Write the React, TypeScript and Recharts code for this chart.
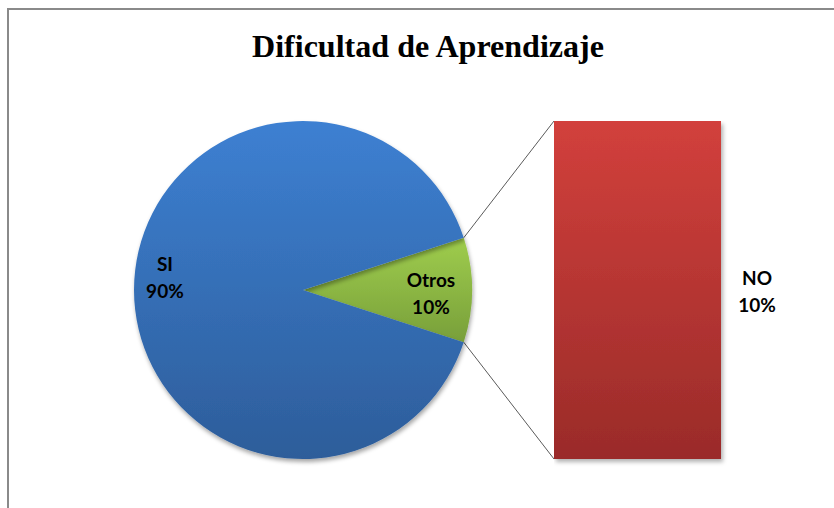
import React from "react";
import { PieChart, Pie, Cell, BarChart, Bar, XAxis, YAxis, LabelList } from "recharts";

// pie slices (Otros first so it sits centred on the right side)
const pieNames = ["Otros", "SI"];
const pieValues = [10, 90];
const pieFills = ["url(#gradGreen)", "url(#gradBlue)"];

// the "Otros" slice broken out into the bar
const barNames = ["NO"];
const barValues = [10];

const pieData = pieNames.map((name, i) => ({ name, value: pieValues[i] }));
const barData = barNames.map((name, i) => ({ name, value: barValues[i] }));

const CX = 303;
const CY = 290;
const R = 169;
const BAR_LEFT = 554;
const BAR_TOP = 121;
const BAR_W = 167;
const BAR_H = 338;

const labelFont = "Lato, 'Open Sans', sans-serif";
const labelSize = 19;

const total = pieValues.reduce((a, b) => a + b, 0);
const halfOtros = (pieValues[0] / total) * 180;

// label placement inside each slice: radius factor and vertical nudge
const pieLabelPos: Record<string, { k: number; dy: number }> = {
  SI: { k: 0.817, dy: -19 },
  Otros: { k: 0.757, dy: -3 },
};

function PieLabel(props: any) {
  const { cx, cy, midAngle, outerRadius, percent, name } = props;
  const pos = pieLabelPos[name] || { k: 0.8, dy: -8 };
  const rad = (-midAngle * Math.PI) / 180;
  const x = cx + outerRadius * pos.k * Math.cos(rad);
  const y = cy + outerRadius * pos.k * Math.sin(rad);
  return (
    <text x={x} y={y} textAnchor="middle" fontFamily={labelFont} fontWeight={700} fontSize={labelSize} fill="#000">
      <tspan x={x} dy={pos.dy}>{name}</tspan>
      <tspan x={x} dy={27}>{`${Math.round(percent * 100)}%`}</tspan>
    </text>
  );
}

function BarLabel(props: any) {
  const { x, y, width, height, value, index } = props;
  const lx = x + width + 36;
  const ly = y + height / 2;
  return (
    <text x={lx} y={ly} textAnchor="middle" fontFamily={labelFont} fontWeight={700} fontSize={labelSize} fill="#000">
      <tspan x={lx} dy={-5}>{barNames[index]}</tspan>
      <tspan x={lx} dy={27}>{`${Math.round((value / total) * 100)}%`}</tspan>
    </text>
  );
}

export default function App() {
  const a = (halfOtros * Math.PI) / 180;
  const p1 = { x: CX + R * Math.cos(a), y: CY - R * Math.sin(a) };
  const p2 = { x: CX + R * Math.cos(a), y: CY + R * Math.sin(a) };

  return (
    <div style={{ position: "fixed", left: 0, top: 0, width: 834, height: 508, overflow: "hidden", background: "#fff" }}>
      <div
        style={{
          position: "absolute",
          left: 7,
          top: 8,
          width: 900,
          height: 600,
          borderLeft: "2px solid #8a8a8a",
          borderTop: "2px solid #8a8a8a",
        }}
      />

      <svg style={{ position: "absolute", left: 0, top: 0 }} width={834} height={508}>
        <text
          x={428}
          y={57}
          textAnchor="middle"
          fontFamily="'Liberation Serif', serif"
          fontWeight={700}
          fontSize={32}
          textLength={352}
          lengthAdjust="spacingAndGlyphs"
          fill="#000"
        >
          Dificultad de Aprendizaje
        </text>
        <line x1={p1.x} y1={p1.y} x2={BAR_LEFT} y2={BAR_TOP} stroke="#5a5a5a" strokeWidth={1} />
        <line x1={p2.x} y1={p2.y} x2={BAR_LEFT} y2={BAR_TOP + BAR_H} stroke="#5a5a5a" strokeWidth={1} />
      </svg>

      <div style={{ position: "absolute", left: 0, top: 0 }}>
        <PieChart width={834} height={508} margin={{ top: 0, right: 0, bottom: 0, left: 0 }}>
          <defs>
            <linearGradient id="gradBlue" x1="0" y1="0" x2="0" y2="1">
              <stop offset="0%" stopColor="#3d80d2" />
              <stop offset="100%" stopColor="#2d5d9a" />
            </linearGradient>
            <linearGradient id="gradGreen" x1="0" y1="0" x2="0" y2="1">
              <stop offset="0%" stopColor="#9fcd4d" />
              <stop offset="100%" stopColor="#789f3a" />
            </linearGradient>
            <filter id="pieShadow" x="-10%" y="-10%" width="120%" height="125%">
              <feDropShadow dx="1" dy="3" stdDeviation="2" floodColor="#000" floodOpacity="0.35" />
            </filter>
          </defs>
          <Pie
            data={pieData}
            dataKey="value"
            nameKey="name"
            cx={CX}
            cy={CY}
            outerRadius={R}
            startAngle={-halfOtros}
            endAngle={360 - halfOtros}
            stroke="none"
            label={PieLabel}
            labelLine={false}
            isAnimationActive={false}
            style={{ filter: "url(#pieShadow)" }}
          >
            {pieData.map((d, i) => (
              <Cell key={d.name} fill={pieFills[i]} />
            ))}
          </Pie>
        </PieChart>
      </div>

      <div style={{ position: "absolute", left: BAR_LEFT, top: BAR_TOP }}>
        <BarChart
          width={BAR_W + 140}
          height={BAR_H + 10}
          data={barData}
          margin={{ top: 0, right: 140, bottom: 10, left: 0 }}
          barCategoryGap={0}
        >
          <defs>
            <linearGradient id="gradRed" x1="0" y1="0" x2="0" y2="1">
              <stop offset="0%" stopColor="#d2403c" />
              <stop offset="100%" stopColor="#9a2b29" />
            </linearGradient>
            <filter id="barShadow" x="-10%" y="-5%" width="125%" height="115%">
              <feDropShadow dx="2" dy="3" stdDeviation="2" floodColor="#000" floodOpacity="0.3" />
            </filter>
          </defs>
          <XAxis dataKey="name" hide />
          <YAxis hide domain={[0, barValues[0]]} />
          <Bar dataKey="value" fill="url(#gradRed)" isAnimationActive={false} style={{ filter: "url(#barShadow)" }}>
            <LabelList dataKey="value" content={BarLabel} />
          </Bar>
        </BarChart>
      </div>
    </div>
  );
}
